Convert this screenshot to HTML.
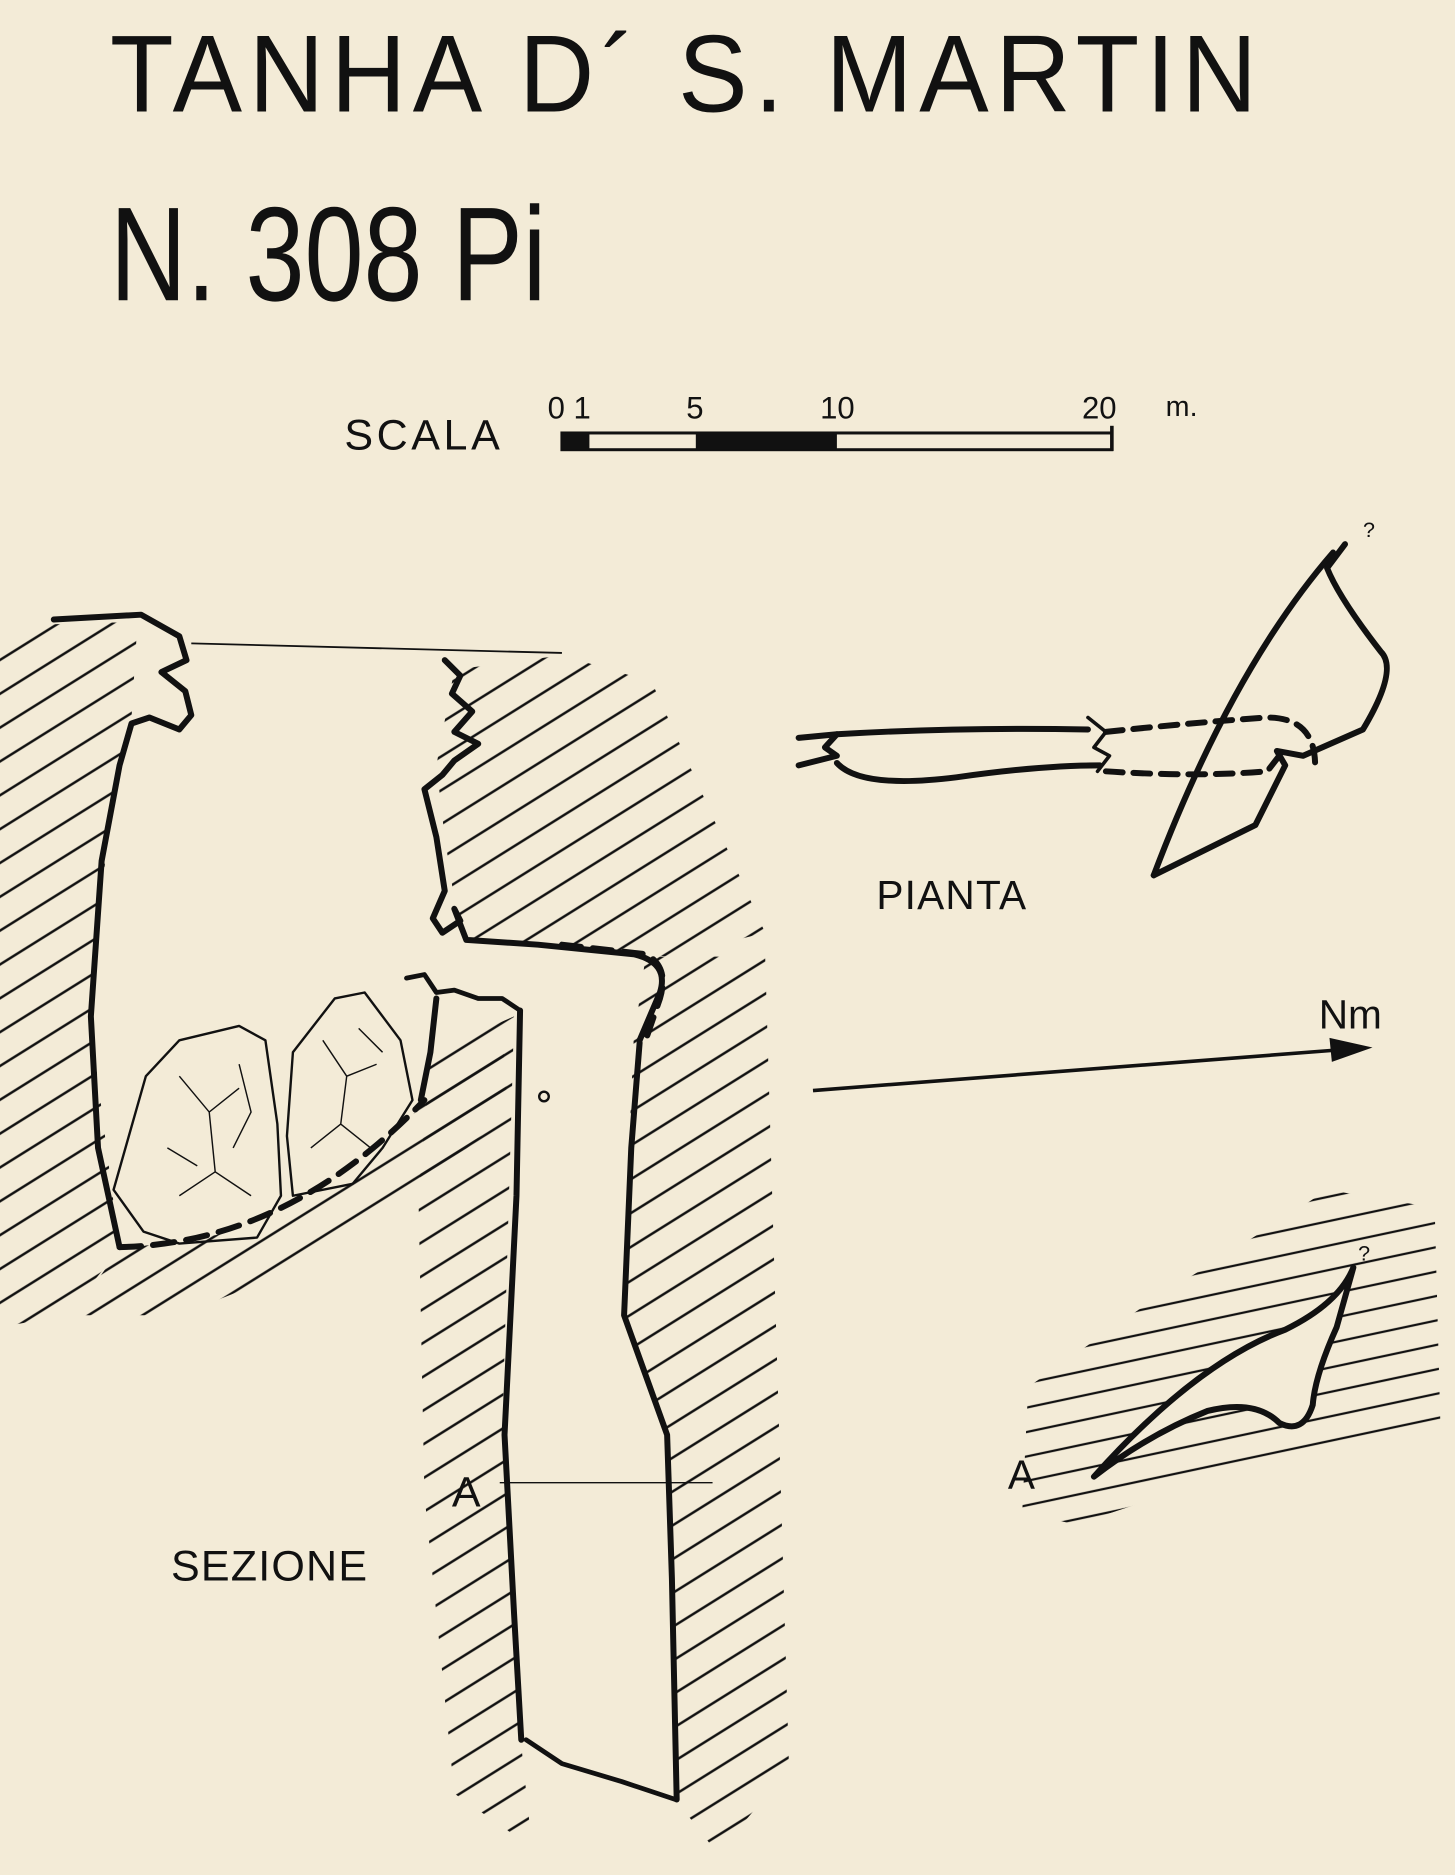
<!DOCTYPE html>
<html><head><meta charset="utf-8"><style>
html,body{margin:0;padding:0;background:#f3ebd7;}
svg{display:block}
text{font-family:"Liberation Sans","DejaVu Sans",sans-serif;fill:#111}
</style></head><body>
<svg width="1455" height="1875" viewBox="0 0 1217 1568" xmlns="http://www.w3.org/2000/svg">
<defs>
<pattern id="h" width="24" height="24" patternUnits="userSpaceOnUse" patternTransform="rotate(-32)">
<line x1="0" y1="12" x2="24" y2="12" stroke="#111" stroke-width="2"/>
</pattern>
<pattern id="h2" width="20" height="20" patternUnits="userSpaceOnUse" patternTransform="rotate(-12)">
<line x1="0" y1="10" x2="20" y2="10" stroke="#111" stroke-width="1.8"/>
</pattern>
</defs>
<rect width="1217" height="1568" fill="#f3ebd7"/>
<text x="92" y="93" font-size="92" letter-spacing="6" textLength="965" lengthAdjust="spacingAndGlyphs">TANHA D´ S. MARTIN</text>
<text x="92" y="251" font-size="112" textLength="365" lengthAdjust="spacingAndGlyphs">N. 308 Pi</text>
<text x="288" y="376" font-size="36" letter-spacing="3">SCALA</text>
<text x="458" y="350" font-size="26">0 1</text>
<text x="574" y="350" font-size="26">5</text>
<text x="686" y="350" font-size="26">10</text>
<text x="905" y="350" font-size="26">20</text>
<text x="975" y="348" font-size="24">m.</text>
<rect x="470" y="362" width="460" height="14" fill="none" stroke="#111" stroke-width="2.5"/>
<rect x="470" y="362" width="23" height="14" fill="#111"/>
<rect x="582" y="362" width="118" height="14" fill="#111"/>
<line x1="930" y1="356" x2="930" y2="377" stroke="#111" stroke-width="3"/>
<!-- hatching section -->
<g fill="url(#h)">
<polygon points="0,545 45,522 115,520 110,600 90,700 75,850 100,1045 55,1100 0,1110"/>
<polygon points="100,1045 200,1030 300,985 360,915 420,860 425,930 300,1040 150,1100 60,1100"/>
<polygon points="380,560 470,548 545,570 640,780 560,800 385,785 372,700 365,640"/>
<polygon points="540,800 640,800 660,1480 600,1550 565,1505 560,1200 520,1100 530,870"/>
<polygon points="360,880 430,850 420,1200 435,1450 445,1545 380,1500 355,1250 350,1000"/>
</g>
<g fill="none" stroke="#111" stroke-width="5" stroke-linejoin="round" stroke-linecap="round">
<path d="M45,518 L118,514 L150,532 L156,552 L135,562 L155,578 L160,598 L150,610 L125,600 L110,605 L100,640 L85,720 L76,850 L82,960 L100,1043"/>
<path d="M100,1043 Q240,1040 355,920" stroke-dasharray="18,10"/>
<path d="M372,552 L385,565 L378,580 L395,595 L380,612 L400,622 L380,636 L370,648 L355,660 L365,700 L372,745 L362,768 L370,780 L385,770 L380,760 L390,786 L450,790 L530,798 Q560,805 552,830 L535,870" />
<path d="M470,790 L540,798 Q560,808 552,835 L540,870" stroke-dasharray="16,10"/>
<path d="M535,872 L528,960 L522,1100 L558,1200 L562,1320 L566,1505"/>
<path d="M435,845 L432,1000 L422,1200 L430,1350 L436,1455"/>
<path d="M440,1455 L470,1475 L520,1490 L565,1505" stroke-width="4"/>
<path d="M365,835 L360,880 L352,920" />
<path d="M340,818 L355,815 L365,830 L380,828 L400,835 L420,835 L435,845" stroke-width="4"/>
<!-- boulders -->
<path d="M122,900 L150,870 L200,858 L222,870 L232,940 L235,1000 L215,1035 L150,1040 L120,1030 L95,995 Z" stroke-width="2"/>
<path d="M245,880 L280,835 L305,830 L335,870 L345,920 L320,960 L295,990 L245,1000 L240,950 Z" stroke-width="2"/>
</g>
<g fill="none" stroke="#111" stroke-width="1.2">
<path d="M150,900 L175,930 L200,910 M175,930 L180,980 L210,1000 M180,980 L150,1000 M200,890 L210,930 L195,960 M140,960 L165,975"/>
<path d="M270,870 L290,900 L315,890 M290,900 L285,940 L310,960 M285,940 L260,960 M300,860 L320,880"/>
</g>
<line x1="160" y1="538" x2="470" y2="546" stroke="#111" stroke-width="1.5"/>
<circle cx="455" cy="917" r="4" fill="none" stroke="#111" stroke-width="2"/>
<line x1="418" y1="1240" x2="596" y2="1240" stroke="#111" stroke-width="1.2"/>
<text x="378" y="1260" font-size="36">A</text>
<text x="143" y="1322" font-size="36" letter-spacing="1">SEZIONE</text>
<!-- pianta -->
<g fill="none" stroke="#111" stroke-width="5" stroke-linejoin="round" stroke-linecap="round">
<path d="M668,617 L700,614 L690,625 L700,632 L668,640"/>
<path d="M700,614 Q800,608 910,610"/>
<path d="M700,638 Q720,660 800,650 Q870,640 920,640"/>
<path d="M910,600 L925,612 L915,625 L928,632 L918,645" stroke-width="3"/>
<path d="M925,612 Q1000,604 1060,600 Q1100,600 1100,640" stroke-dasharray="14,9"/>
<path d="M925,645 Q1000,650 1060,645 L1070,632" stroke-dasharray="14,9"/>
<path d="M965,732 Q1030,560 1115,462"/>
<path d="M965,732 L1050,690 L1075,640 L1068,628 L1090,632 L1140,610 Q1170,560 1155,545 Q1120,500 1110,475 L1125,455"/>
</g>
<text x="1140" y="449" font-size="18">?</text>
<text x="733" y="760" font-size="34" letter-spacing="1">PIANTA</text>
<!-- arrow -->
<line x1="680" y1="912" x2="1120" y2="878" stroke="#111" stroke-width="3"/>
<polygon points="1148,876 1112,868 1114,888" fill="#111"/>
<text x="1103" y="860" font-size="34">Nm</text>
<!-- lower plan section -->
<polygon points="1110,995 1200,1010 1205,1200 1160,1210 1020,1235 900,1275 855,1265 860,1160 960,1090 1080,1015" fill="url(#h2)"/>
<path d="M915,1235 Q1000,1140 1075,1112 Q1120,1090 1132,1060 L1118,1110 Q1100,1150 1098,1175 Q1090,1200 1070,1190 Q1050,1170 1010,1180 Q960,1200 915,1235 Z" fill="#f3ebd7" stroke="#111" stroke-width="5" stroke-linejoin="round"/>
<text x="1136" y="1054" font-size="18">?</text>
<text x="843" y="1245" font-size="34">A</text>
</svg>
</body></html>
